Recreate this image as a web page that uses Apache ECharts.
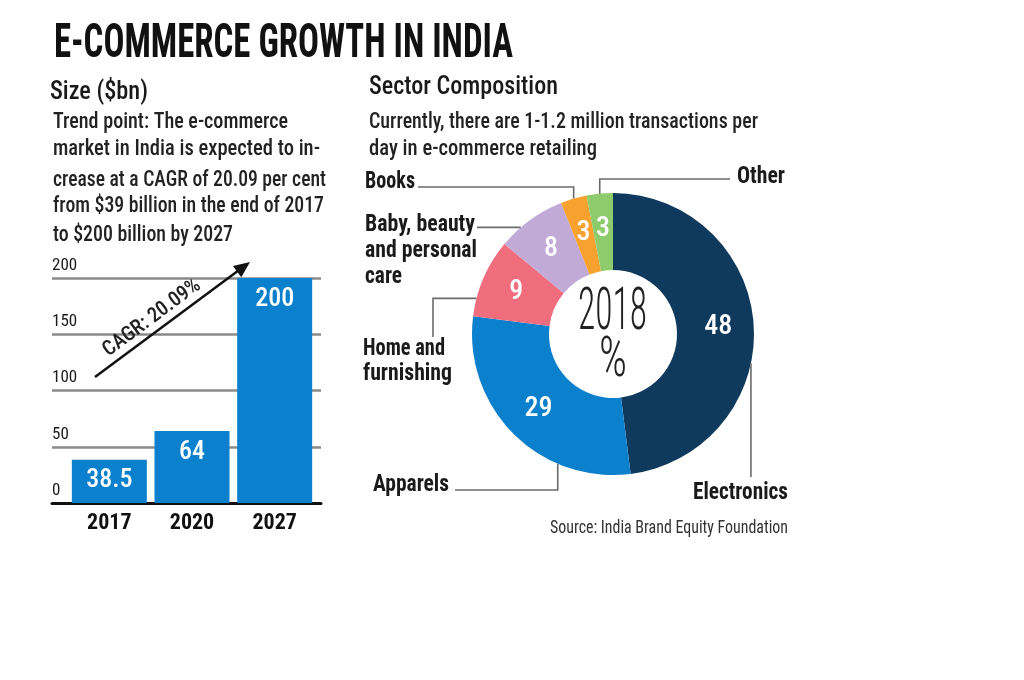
<!DOCTYPE html>
<html><head><meta charset="utf-8">
<script src="https://cdn.jsdelivr.net/npm/echarts@6/dist/echarts.min.js"></script>
<style>html,body{margin:0;padding:0;background:#fff;}#c{width:1024px;height:680px;}</style>
</head><body><div id="c"></div>
<script>
// ---------- data ----------
const years = ['2017', '2020', '2027'];
const sizeValues = [38.5, 64, 200];
const sizeTicks = [0, 50, 100, 150, 200];
const sectors = ['Electronics', 'Apparels', 'Home and furnishing', 'Baby, beauty and personal care', 'Books', 'Other'];
const sectorShares = [48, 29, 9, 8, 3, 3];
const sectorLabelLines = [['Electronics'], ['Apparels'], ['Home and', 'furnishing'], ['Baby, beauty', 'and personal', 'care'], ['Books'], ['Other']];
const titleText = 'E-COMMERCE GROWTH IN INDIA';
const leftHeading = 'Size ($bn)';
const leftNote = ['Trend point: The e-commerce', 'market in India is expected to in-', 'crease at a CAGR of 20.09 per cent', 'from $39 billion in the end of 2017', 'to $200 billion by 2027'];
const cagrText = 'CAGR: 20.09%';
const rightHeading = 'Sector Composition';
const rightNote = ['Currently, there are 1-1.2 million transactions per', 'day in e-commerce retailing'];
const centerYear = '2018';
const centerUnit = '%';
const sourceText = 'Source: India Brand Equity Foundation';

// ---------- style ----------
const sectorColors = ['#0f3a5d', '#0b80cc', '#f06d7e', '#c1aad5', '#f7a12e', '#8ecb6c'];
const barColor = '#0b80cc';
const FAM = "'Roboto Condensed', Roboto, 'Liberation Sans', sans-serif";
const NARROW = "'Roboto Condensed', 'DejaVu Sans Condensed', Roboto, sans-serif";
const PIE_C = [613, 334], R0 = 64, R1 = 141;

const mctx = document.createElement('canvas').getContext('2d');
function txt(s, x, cy, w, size, weight, fill, extra) {
  const font = weight + ' ' + size + 'px ' + FAM;
  mctx.font = font;
  const sx = w / mctx.measureText(s).width;
  return Object.assign({
    type: 'text', x: x, y: cy, scaleX: sx, scaleY: 1, silent: true, z: 10,
    style: { text: s, font: font, fontSize: size, fontWeight: weight, fontFamily: FAM, fill: fill,
      textAlign: 'left', align: 'left', textVerticalAlign: 'middle', verticalAlign: 'middle' }
  }, extra || {});
}
function anchor(i, frac) {
  const total = sectorShares.reduce((a, b) => a + b, 0);
  let start = 0;
  for (let k = 0; k < i; k++) start += sectorShares[k];
  const a = (start + frac * sectorShares[i]) / total * 2 * Math.PI;
  return [PIE_C[0] + R1 * Math.sin(a), PIE_C[1] - R1 * Math.cos(a)];
}

const g = [];
// headings and notes
g.push(txt(titleText, 54, 45, 459, 48, 'bold', '#111'));
g.push(txt(leftHeading, 50, 92.5, 98, 26, '500', '#1a1a1a'));
const leftY = [122.5, 149.5, 180, 206.5, 235.5];
const leftW = [235, 267, 273, 271, 180];
leftNote.forEach((s, i) => g.push(txt(s, 53, leftY[i], leftW[i], 22, '500', '#222')));
g.push(txt(rightHeading, 369, 87.5, 189, 26, '500', '#1a1a1a'));
g.push(txt(rightNote[0], 369, 122, 389, 22, '500', '#222'));
g.push(txt(rightNote[1], 369, 149, 228, 22, '500', '#222'));
// pie centre
g.push(txt(centerYear, 578, 314, 69, 59, '300', '#222'));
g.push(txt(centerUnit, 599, 362, 28, 56, '300', '#222'));
// source
g.push(txt(sourceText, 550, 528, 238, 18, 'normal', '#333'));

// CAGR arrow
const aS = [95, 377], aT = [250, 262];
const dx = aT[0] - aS[0], dy = aT[1] - aS[1], L = Math.hypot(dx, dy);
const u = [dx / L, dy / L], n = [-u[1], u[0]];
const B = [aT[0] - 16 * u[0], aT[1] - 16 * u[1]];
g.push({ type: 'polyline', silent: true, z: 10, shape: { points: [aS, [B[0] + 2 * u[0], B[1] + 2 * u[1]]] }, style: { stroke: '#111', lineWidth: 2.5, fill: null } });
g.push({ type: 'polygon', silent: true, z: 10, shape: { points: [aT, [B[0] + 7 * n[0], B[1] + 7 * n[1]], [B[0] - 7 * n[0], B[1] - 7 * n[1]]] }, style: { fill: '#111' } });
const ang = Math.atan2(-dy, dx);
{
  const size = 21, font = '500 ' + size + 'px ' + FAM;
  mctx.font = font;
  const sx = 116 / mctx.measureText(cagrText).width;
  g.push({ type: 'text', x: 152, y: 318, rotation: ang, scaleX: sx, silent: true, z: 10,
    style: { text: cagrText, font: font, fontSize: size, fontWeight: '500', fontFamily: FAM, fill: '#222', textAlign: 'center', align: 'center', textVerticalAlign: 'middle', verticalAlign: 'middle' } });
}

// leader lines + outer labels
const LC = '#6b6b6b';
function leader(points) { g.push({ type: 'polyline', silent: true, z: 5, shape: { points: points }, style: { stroke: LC, lineWidth: 1.6, fill: null } }); }
let p;
p = anchor(4, 0.5); leader([p, [p[0], 187], [418, 187]]);
p = anchor(5, 0.5); leader([p, [p[0], 179], [730, 179]]);
p = anchor(3, 0.33); leader([p, [477, p[1]]]);
p = anchor(2, 0.23); leader([p, [433, p[1]], [433, 337]]);
p = anchor(1, 0.29); leader([p, [p[0], 490], [455, 490]]);
p = anchor(0, 0.59); leader([p, [p[0], 477]]);

const LW = '#1a1a1a';
g.push(txt(sectorLabelLines[4][0], 365, 181.5, 50, 24, 'bold', LW));
g.push(txt(sectorLabelLines[5][0], 737, 176.5, 48, 24, 'bold', LW));
g.push(txt(sectorLabelLines[3][0], 365, 225, 110, 24, 'bold', LW));
g.push(txt(sectorLabelLines[3][1], 365, 251, 112, 24, 'bold', LW));
g.push(txt(sectorLabelLines[3][2], 365, 277, 37, 24, 'bold', LW));
g.push(txt(sectorLabelLines[2][0], 363, 349, 82, 24, 'bold', LW));
g.push(txt(sectorLabelLines[2][1], 363, 374, 89, 24, 'bold', LW));
g.push(txt(sectorLabelLines[1][0], 373, 485, 76, 24, 'bold', LW));
g.push(txt(sectorLabelLines[0][0], 693, 493, 95, 24, 'bold', LW));

const chart = echarts.init(document.getElementById('c'), null, { renderer: 'canvas' });
chart.setOption({
  animation: false,
  backgroundColor: '#fff',
  grid: [
    { left: 68, right: 1024 - 316, top: 278, bottom: 680 - 503 },
    { left: 52, right: 1024 - 321, top: 278, bottom: 680 - 503 }
  ],
  xAxis: [
    { gridIndex: 0, type: 'category', data: years, axisLine: { show: false }, axisTick: { show: false },
      axisLabel: { margin: 9, color: '#111', fontSize: 22, fontWeight: 'bold', fontFamily: NARROW } },
    { gridIndex: 1, type: 'value', min: 0, max: 1, axisLine: { show: true, lineStyle: { color: '#111', width: 3 } },
      axisTick: { show: false }, axisLabel: { show: false }, splitLine: { show: false } }
  ],
  yAxis: [
    { gridIndex: 0, type: 'value', min: sizeTicks[0], max: sizeTicks[sizeTicks.length - 1], interval: sizeTicks[1] - sizeTicks[0], show: false },
    { gridIndex: 1, type: 'value', min: sizeTicks[0], max: sizeTicks[sizeTicks.length - 1], interval: sizeTicks[1] - sizeTicks[0],
      axisLine: { show: false }, axisTick: { show: false },
      axisLabel: { inside: true, margin: 0, align: 'left', verticalAlign: 'bottom', padding: [0, 0, 4, 0], color: '#1a1a1a', fontSize: 17, fontFamily: NARROW },
      splitLine: { show: true, lineStyle: { color: '#8a8a8a', width: 2.5 } } }
  ],
  series: [
    { type: 'bar', xAxisIndex: 0, yAxisIndex: 0, data: sizeValues, barWidth: 75, itemStyle: { color: barColor }, z: 3,
      label: { show: true, position: 'insideTop', distance: 8, color: '#fff', fontSize: 26, fontWeight: '500', fontFamily: NARROW } },
    { type: 'pie', center: PIE_C, radius: [R0, R1], startAngle: 90, clockwise: true, silent: true,
      data: sectors.map((s, i) => ({ name: s, value: sectorShares[i], itemStyle: { color: sectorColors[i] } })),
      label: { show: true, position: 'inside', formatter: '{c}', color: '#fff', fontSize: 28, fontWeight: '500', fontFamily: NARROW },
      labelLine: { show: false } }
  ],
  graphic: { elements: g }
});
</script>
</body></html>
